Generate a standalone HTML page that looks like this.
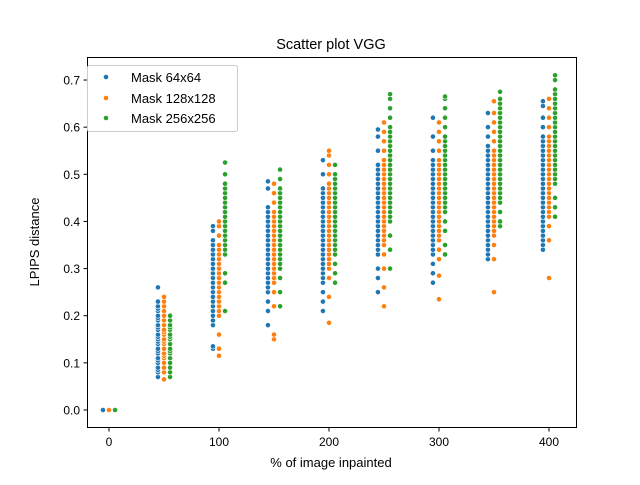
<!DOCTYPE html>
<html><head><meta charset="utf-8"><style>
body{margin:0;background:#fff}
svg{font-family:"Liberation Sans","DejaVu Sans",sans-serif}
</style></head><body>
<svg id="chart" width="640" height="480" viewBox="0 0 640 480" xmlns="http://www.w3.org/2000/svg">
<rect width="640" height="480" fill="#fff"/>
<text x="331" y="49" font-size="14.5" text-anchor="middle">Scatter plot VGG</text>
<g id="marks"></g>
<g id="axes"></g>
<rect x="87.5" y="57.5" width="489" height="370" fill="none" stroke="#000" stroke-width="1"/>
<text x="331" y="467" font-size="13" text-anchor="middle">% of image inpainted</text>
<text transform="translate(39,242) rotate(-90)" font-size="13" text-anchor="middle">LPIPS distance</text>
<g>
<rect x="87.5" y="65.5" width="150" height="66" rx="2" fill="#fff" fill-opacity="0.8" stroke="#ccc"/>
<circle cx="106" cy="77" r="2.3" fill="#1f77b4"/>
<text x="131" y="82" font-size="13">Mask 64x64</text>
<circle cx="106" cy="98" r="2.3" fill="#ff7f0e"/>
<text x="131" y="103" font-size="13">Mask 128x128</text>
<circle cx="106" cy="118" r="2.3" fill="#2ca02c"/>
<text x="131" y="123" font-size="13">Mask 256x256</text>
</g>
</svg>
<script>
const categories=[0,50,100,150,200,250,300,350,400];
const seriesNames=["Mask 64x64","Mask 128x128","Mask 256x256"];
const seriesOffsets=[-5.5,0,5.5];
const xTicks=[0,100,200,300,400];
const yTicks=[0,0.1,0.2,0.3,0.4,0.5,0.6,0.7];
const yTickLabels=["0.0","0.1","0.2","0.3","0.4","0.5","0.6","0.7"];
const blue=[
[0],
[.07,.08,.085,.09,.1,.105,.11,.12,.125,.13,.14,.145,.15,.155,.16,.17,.175,.18,.19,.195,.2,.21,.215,.22,.23,.26],
[.13,.135,.18,.19,.2,.21,.22,.23,.24,.25,.26,.27,.28,.29,.3,.31,.32,.33,.34,.35,.36,.38,.39],
[.18,.21,.23,.25,.26,.27,.28,.29,.3,.31,.32,.33,.34,.35,.36,.37,.38,.39,.4,.41,.42,.43,.47,.485],
[.21,.23,.25,.27,.28,.29,.3,.31,.32,.33,.34,.35,.36,.37,.38,.39,.4,.41,.42,.43,.44,.45,.46,.47,.5,.53],
[.25,.28,.3,.33,.34,.35,.36,.37,.38,.39,.4,.41,.42,.43,.44,.45,.46,.47,.48,.49,.5,.51,.52,.55,.58,.595],
[.27,.29,.31,.33,.34,.35,.36,.37,.38,.39,.4,.41,.42,.43,.44,.45,.46,.47,.48,.49,.5,.51,.52,.53,.55,.58,.62],
[.32,.33,.34,.35,.36,.37,.38,.39,.4,.41,.42,.43,.44,.45,.46,.47,.48,.49,.5,.51,.52,.53,.54,.55,.56,.58,.6,.63],
[.34,.35,.36,.37,.38,.39,.4,.41,.42,.43,.44,.45,.46,.47,.48,.49,.5,.51,.52,.53,.54,.55,.56,.57,.58,.6,.62,.645,.655]];
const orange=[
[0],
[.065,.08,.09,.1,.11,.115,.12,.13,.14,.145,.15,.16,.165,.17,.18,.19,.2,.21,.22,.23,.24],
[.115,.13,.16,.2,.21,.22,.23,.24,.25,.26,.27,.28,.29,.3,.31,.32,.33,.34,.35,.37,.39,.4],
[.15,.16,.22,.25,.27,.28,.29,.3,.31,.32,.33,.34,.35,.36,.37,.38,.39,.4,.41,.42,.44,.46,.48],
[.185,.24,.28,.3,.31,.32,.33,.34,.35,.36,.37,.38,.39,.4,.41,.42,.43,.44,.45,.46,.47,.48,.5,.52,.54,.55],
[.22,.26,.3,.33,.35,.36,.37,.38,.39,.4,.41,.42,.43,.44,.45,.46,.47,.48,.49,.5,.51,.52,.53,.55,.57,.59,.61],
[.235,.285,.32,.34,.36,.37,.38,.39,.4,.41,.42,.43,.44,.45,.46,.47,.48,.49,.5,.51,.52,.53,.55,.57,.59,.61],
[.25,.32,.35,.37,.38,.39,.4,.41,.42,.43,.44,.45,.46,.47,.48,.49,.5,.51,.52,.53,.54,.55,.57,.59,.61,.63,.655],
[.28,.36,.39,.41,.42,.43,.44,.45,.46,.47,.48,.49,.5,.51,.52,.53,.54,.55,.56,.57,.58,.6,.62,.64,.66]];
const green=[
[0],
[.07,.08,.09,.1,.11,.12,.125,.13,.14,.15,.155,.16,.17,.175,.18,.19,.2],
[.21,.27,.29,.33,.34,.35,.36,.37,.38,.39,.4,.41,.42,.43,.44,.45,.46,.47,.48,.5,.525],
[.22,.25,.28,.3,.31,.32,.33,.34,.35,.36,.37,.38,.39,.4,.41,.42,.43,.44,.45,.46,.47,.49,.51],
[.27,.29,.31,.33,.34,.35,.36,.37,.38,.39,.4,.41,.42,.43,.44,.45,.46,.47,.48,.49,.5,.52],
[.3,.34,.37,.4,.41,.42,.43,.44,.45,.46,.47,.48,.49,.5,.51,.52,.53,.54,.55,.56,.57,.58,.59,.6,.62,.64,.66,.67],
[.33,.35,.38,.4,.42,.43,.44,.45,.46,.47,.48,.49,.5,.51,.52,.53,.54,.55,.56,.57,.58,.6,.62,.64,.66,.665],
[.39,.4,.42,.44,.45,.46,.47,.48,.49,.5,.51,.52,.53,.54,.55,.56,.57,.58,.59,.6,.61,.62,.63,.64,.65,.66,.675],
[.41,.43,.45,.48,.49,.5,.51,.52,.53,.54,.55,.56,.57,.58,.59,.6,.61,.62,.63,.64,.65,.66,.67,.68,.7,.71]];
const seriesValues=[blue,orange,green];
const colors=["#1f77b4","#ff7f0e","#2ca02c"];
const NS="http://www.w3.org/2000/svg";
function xScale(v){return 109+v*1.1;}
function yScale(v){return 410-v*471.4;}
const marks=document.getElementById("marks");
seriesValues.forEach((ser,si)=>{
  const g=document.createElementNS(NS,"g");
  
  
  marks.appendChild(g);
  ser.forEach((ys,ci)=>{
    ys.forEach(y=>{
      const c=document.createElementNS(NS,"circle");
      
      
      c.setAttribute("cx",xScale(categories[ci]+seriesOffsets[si]));
      c.setAttribute("cy",yScale(y));
      c.setAttribute("r","2.6");
      c.setAttribute("fill",colors[si]);
      c.setAttribute("stroke","#fff");
      c.setAttribute("stroke-width","0.6");
      g.appendChild(c);
    });
  });
});
const axes=document.getElementById("axes");
xTicks.forEach(t=>{
  const x=xScale(t);
  const l=document.createElementNS(NS,"line");
  
  
  l.setAttribute("x1",x);l.setAttribute("x2",x);l.setAttribute("y1",427.5);l.setAttribute("y2",431.5);l.setAttribute("stroke","#000");
  axes.appendChild(l);
  const tx=document.createElementNS(NS,"text");
  
  
  tx.setAttribute("x",x);tx.setAttribute("y",446);tx.setAttribute("font-size","12");tx.setAttribute("text-anchor","middle");
  tx.textContent=String(t);
  axes.appendChild(tx);
});
yTicks.forEach((t,i)=>{
  const y=yScale(t);
  const l=document.createElementNS(NS,"line");
  
  
  l.setAttribute("x1",83.5);l.setAttribute("x2",87.5);l.setAttribute("y1",y);l.setAttribute("y2",y);l.setAttribute("stroke","#000");
  axes.appendChild(l);
  const tx=document.createElementNS(NS,"text");
  
  
  tx.setAttribute("x",80);tx.setAttribute("y",y+4.5);tx.setAttribute("font-size","12");tx.setAttribute("text-anchor","end");
  tx.textContent=yTickLabels[i];
  axes.appendChild(tx);
});
</script>
</body></html>
